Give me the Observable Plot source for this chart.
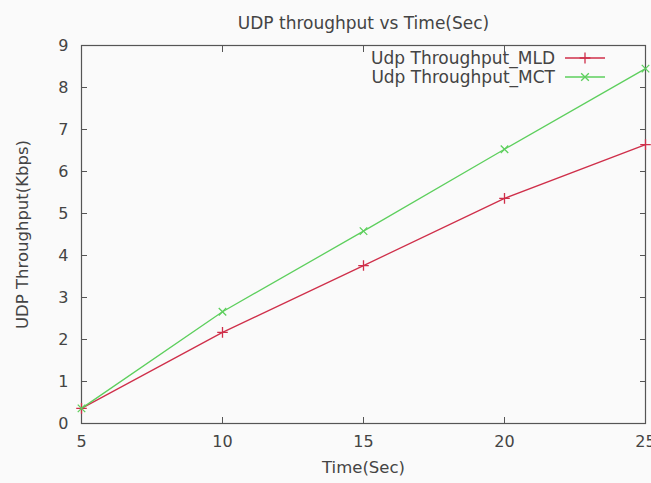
<!DOCTYPE html>
<html>
<head>
<meta charset="utf-8">
<script src="https://cdn.jsdelivr.net/npm/d3@7"></script>
<script src="https://cdn.jsdelivr.net/npm/@observablehq/plot@0.6"></script>
<style>
  html, body { margin: 0; padding: 0; background: #fafafa; }
  svg { display: block; }
</style>
</head>
<body>
<div id="chart"></div>
<script>
const times = [5, 10, 15, 20, 25];
const mld = [0.36, 2.17, 3.76, 5.36, 6.64];
const mct = [0.36, 2.66, 4.58, 6.53, 8.45];
const xTicks = [5, 10, 15, 20, 25];
const yTicks = [0, 1, 2, 3, 4, 5, 6, 7, 8, 9];
const seriesNames = ["Udp Throughput_MLD", "Udp Throughput_MCT"];
const seriesColors = ["#cf2f4a", "#5dcf5d"];
const seriesSymbols = ["plus", "times"];
const titleText = "UDP throughput vs Time(Sec)";
const xLabel = "Time(Sec)";
const yLabel = "UDP Throughput(Kbps)";

const data = [];
times.forEach((t, i) => {
  data.push({time: t, value: mld[i], series: seriesNames[0]});
  data.push({time: t, value: mct[i], series: seriesNames[1]});
});

const font = "DejaVu Sans, sans-serif";
const textColor = "#444";

const chart = Plot.plot({
  width: 651,
  height: 483,
  marginLeft: 81,
  marginRight: 6,
  marginTop: 45,
  marginBottom: 60,
  style: {background: "#fafafa", fontFamily: font, fontSize: "16px", color: textColor},
  x: {domain: [5, 25]},
  y: {domain: [0, 9]},
  color: {domain: seriesNames, range: seriesColors},
  symbol: {domain: seriesNames, range: seriesSymbols},
  marks: [
    Plot.frame({stroke: "#555", strokeWidth: 1.2}),
    Plot.axisX({ticks: xTicks, anchor: "bottom", tickSize: -6, tickPadding: 18, stroke: "#555", fill: textColor,
      label: null, fontSize: 16}),
    Plot.axisX({ticks: xTicks, anchor: "top", tickSize: -6, tickFormat: () => "", label: null, stroke: "#555"}),
    Plot.axisY({ticks: yTicks, anchor: "left", tickSize: -6, tickPadding: 19, stroke: "#555", fill: textColor,
      label: null, fontSize: 16}),
    Plot.axisY({ticks: yTicks, anchor: "right", tickSize: -6, tickFormat: () => "", label: null, stroke: "#555"}),
    Plot.line(data, {x: "time", y: "value", stroke: "series", strokeWidth: 1.3}),
    Plot.dot(data, {x: "time", y: "value", stroke: "series", symbol: "series", r: 3.5, strokeWidth: 1.3}),
    Plot.text([titleText], {frameAnchor: "top", dy: -29, fill: textColor, fontSize: 17}),
    Plot.text([xLabel], {frameAnchor: "bottom", dy: 49, fill: textColor, fontSize: 16.5}),
    Plot.text([yLabel], {frameAnchor: "left", dx: -59, rotate: -90, textAnchor: "middle", fill: textColor, fontSize: 16.5})
  ]
});

document.getElementById("chart").appendChild(chart);

// Legend (inside plot, top right)
const svg = d3.select(chart);
const lg = svg.append("g").attr("font-family", font).attr("font-size", 17).attr("fill", textColor);
seriesNames.forEach((name, i) => {
  const y = 58 + i * 19;
  lg.append("text").attr("x", 555).attr("y", y).attr("dy", "0.35em").attr("text-anchor", "end").text(name);
  lg.append("line").attr("x1", 565).attr("x2", 605).attr("y1", y).attr("y2", y)
    .attr("stroke", seriesColors[i]).attr("stroke-width", 1.3);
  const s = d3.symbol(i === 0 ? d3.symbolPlus : d3.symbolTimes, 40)();
  lg.append("path").attr("d", s).attr("transform", `translate(585,${y})`)
    .attr("fill", "none").attr("stroke", seriesColors[i]).attr("stroke-width", 1.3);
});
</script>
</body>
</html>
